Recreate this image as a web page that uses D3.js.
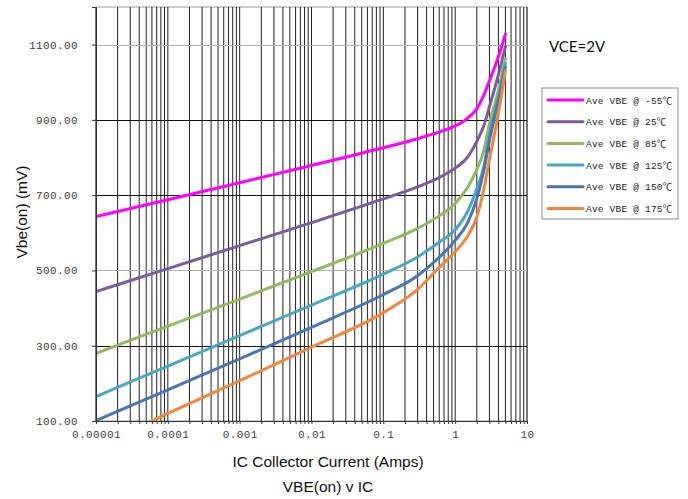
<!DOCTYPE html>
<html>
<head>
<meta charset="utf-8">
<script src="https://cdn.jsdelivr.net/npm/d3@7"></script>
<style>
  body { margin: 0; background: #fff; }
  svg { display: block; }
</style>
</head>
<body>
<div id="chart"></div>
<script>
// collector current (A) sample points shared by all curves
const current = [0.00001, 0.0001, 0.001, 0.01, 0.1, 0.3, 0.6, 1, 1.5, 2, 2.5, 3, 4, 5];

// Vbe(on) in mV
const vbeM55 = [643, 688, 733, 779, 826, 850, 868, 884, 905, 930, 965, 1004, 1068, 1128];
const vbe25 = [444, 505, 566, 627, 690, 722, 747, 772, 802, 843, 884, 935, 1020, 1095];
const vbe85 = [280, 352, 424, 497, 572, 612, 645, 678, 722, 768, 818, 890, 980, 1062];
const vbe125 = [165, 246, 327, 408, 490, 536, 575, 608, 658, 717, 775, 862, 960, 1050];
const vbe150 = [101, 183, 265, 349, 436, 486, 535, 580, 628, 690, 765, 845, 952, 1040];
const vbe175 = [32, 120, 207, 296, 388, 450, 508, 550, 592, 642, 715, 795, 918, 1030];

const seriesNames = ["Ave VBE @ -55℃", "Ave VBE @ 25℃", "Ave VBE @ 85℃",
  "Ave VBE @ 125℃", "Ave VBE @ 150℃", "Ave VBE @ 175℃"];
const seriesColors = ["#ff00ff", "#7a5c9e", "#94b95a", "#46a8c2", "#4775b5", "#f0873d"];
const seriesValues = [vbeM55, vbe25, vbe85, vbe125, vbe150, vbe175];

const xTickValues = [0.00001, 0.0001, 0.001, 0.01, 0.1, 1, 10];
const xTickLabels = ["0.00001", "0.0001", "0.001", "0.01", "0.1", "1", "10"];
const yTickValues = [100, 300, 500, 700, 900, 1100];
// these two rows come out pale grey in the original picture
const paleRows = [500, 1100];

const W = 688, H = 499;
const plot = { left: 96, right: 527, top: 7, bottom: 421 };

const svg = d3.select("#chart").append("svg")
  .attr("width", W).attr("height", H);

const x = d3.scaleLog().domain([0.00001, 10]).range([plot.left, plot.right]);
const y = d3.scaleLinear().domain([100, 1200]).range([plot.bottom, plot.top]);

svg.append("defs").append("clipPath").attr("id", "clip")
  .append("rect")
  .attr("x", plot.left).attr("y", plot.top)
  .attr("width", plot.right - plot.left).attr("height", plot.bottom - plot.top);

// outer plot frame
svg.append("rect")
  .attr("x", plot.left).attr("y", plot.top)
  .attr("width", plot.right - plot.left).attr("height", plot.bottom - plot.top)
  .attr("fill", "#fff").attr("stroke", "#9a9a9a");

// vertical log grid
const grid = svg.append("g");
grid.selectAll("line.v")
  .data(x.ticks())
  .enter().append("line")
  .attr("class", "v")
  .attr("x1", (d) => x(d)).attr("x2", (d) => x(d))
  .attr("y1", plot.top).attr("y2", plot.bottom)
  .attr("stroke", "#222").attr("stroke-width", 1);

grid.selectAll("line.h")
  .data(yTickValues.slice(1))
  .enter().append("line")
  .attr("class", "h")
  .attr("x1", plot.left).attr("x2", plot.right)
  .attr("y1", (d) => Math.round(y(d)) + 0.5).attr("y2", (d) => Math.round(y(d)) + 0.5)
  .attr("stroke", (d) => paleRows.includes(d) ? "#b0b0b0" : "#111")
  .attr("stroke-width", 1);

// curves
const line = d3.line()
  .x((d) => x(d[0]))
  .y((d) => y(d[1]))
  .curve(d3.curveMonotoneX);

svg.append("g").attr("clip-path", "url(#clip)")
  .selectAll("path")
  .data(seriesValues)
  .enter().append("path")
  .attr("d", (vals) => line(current.map((c, i) => [c, vals[i]])))
  .attr("fill", "none")
  .attr("stroke", (d, i) => seriesColors[i])
  .attr("stroke-width", 3)
  .attr("stroke-linejoin", "round")
  .attr("stroke-linecap", "round");

// axes
const tickFont = "'Liberation Mono', 'DejaVu Sans Mono', monospace";

const yAxis = svg.append("g")
  .attr("transform", `translate(${plot.left},0)`)
  .call(d3.axisLeft(y).tickValues(yTickValues).tickFormat(d3.format(".2f")).tickSize(4).tickPadding(14));
yAxis.select(".domain").attr("stroke", "#333");
yAxis.selectAll(".tick line").attr("stroke", "#333");
yAxis.selectAll("text")
  .style("font-family", tickFont).style("font-size", "11px")
  .style("letter-spacing", "0.4px").attr("fill", "#404040");

const xAxis = svg.append("g")
  .attr("transform", `translate(0,${plot.bottom})`)
  .call(d3.axisBottom(x).tickValues(x.ticks()).tickSize(3)
    .tickFormat((d) => {
      const k = xTickValues.findIndex((v) => Math.abs(v - d) / v < 1e-6);
      return k >= 0 ? xTickLabels[k] : "";
    }).tickPadding(6));
xAxis.select(".domain").attr("stroke", "#333");
xAxis.selectAll(".tick line").attr("stroke", "#333");
xAxis.selectAll("text")
  .style("font-family", tickFont).style("font-size", "11px")
  .style("letter-spacing", "0.4px").attr("fill", "#404040");

// titles
const titleFont = "'Liberation Sans', Arial, sans-serif";

svg.append("text")
  .attr("transform", "translate(27,212) rotate(-90)")
  .attr("text-anchor", "middle")
  .style("font-family", titleFont).style("font-size", "15.5px")
  .attr("fill", "#111")
  .text("Vbe(on) (mV)");

svg.append("text")
  .attr("x", 328).attr("y", 467)
  .attr("text-anchor", "middle")
  .style("font-family", titleFont).style("font-size", "15.5px")
  .attr("fill", "#111")
  .text("IC Collector Current (Amps)");

svg.append("text")
  .attr("x", 328).attr("y", 492)
  .attr("text-anchor", "middle")
  .style("font-family", titleFont).style("font-size", "15.5px")
  .attr("fill", "#111")
  .text("VBE(on) v IC");

svg.append("text")
  .attr("x", 549).attr("y", 52)
  .style("font-family", "Lato, 'Open Sans', sans-serif").style("font-size", "15px")
  .attr("fill", "#111")
  .text("VCE=2V");

// legend
const legend = svg.append("g");
legend.append("rect")
  .attr("x", 542).attr("y", 88).attr("width", 136).attr("height", 131)
  .attr("fill", "#fff").attr("stroke", "#8a8a8a");

const rows = legend.selectAll("g.row")
  .data(seriesNames)
  .enter().append("g")
  .attr("class", "row")
  .attr("transform", (d, i) => `translate(0,${100 + i * 21.7})`);

rows.append("line")
  .attr("x1", 548).attr("x2", 583)
  .attr("stroke", (d, i) => seriesColors[i])
  .attr("stroke-width", 3).attr("stroke-linecap", "round");

rows.append("text")
  .attr("x", 586).attr("y", 3.5)
  .style("font-family", "'Liberation Mono', 'Noto Sans CJK SC', monospace")
  .style("font-size", "9.5px")
  .style("letter-spacing", "0.2px")
  .attr("fill", "#222")
  .text((d) => d);
</script>
</body>
</html>
